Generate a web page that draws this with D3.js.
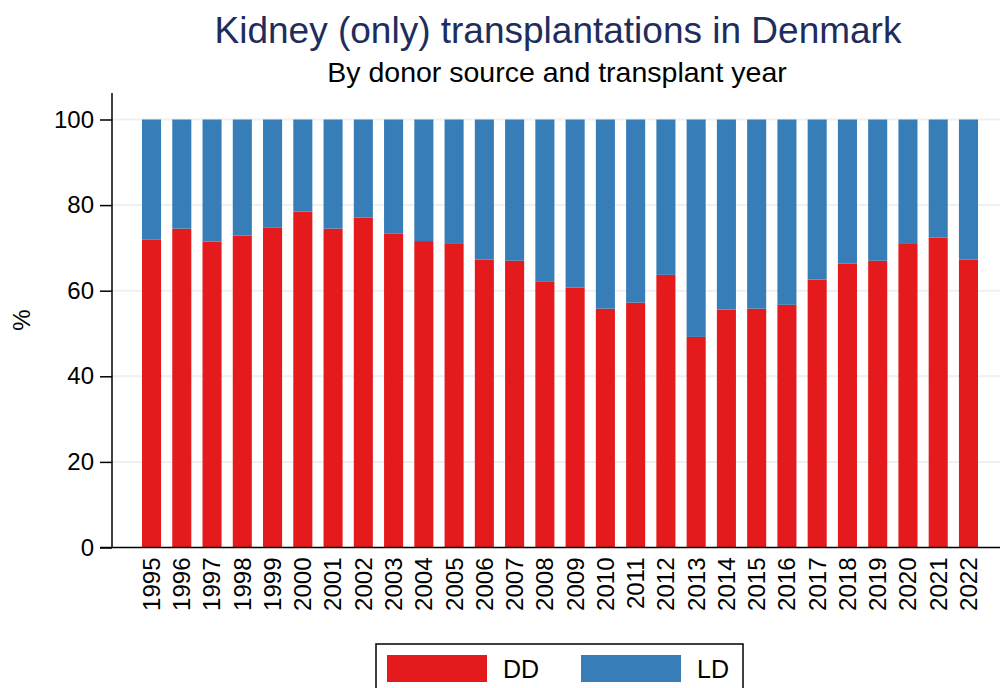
<!DOCTYPE html>
<html>
<head>
  <script src="https://d3js.org/d3.v7.min.js"></script>
  <style>
    body { margin: 0; background: #fff; }
    svg { font-family: Arial, "Liberation Sans", sans-serif; }
    .title { font-size: 37px; fill: #1e2d5c; }
    .subtitle { font-size: 28.5px; fill: #000; }
    .axis text { font-size: 24px; fill: #000; }
    .axis path, .axis line { stroke: #000; stroke-width: 1.5; }
    .grid line { stroke: #eaf2f3; stroke-width: 2; }
  </style>
</head>
<body>
  <div id="chart"></div>
  <script>
    // data
    const years = ["1995", "1996", "1997", "1998", "1999", "2000", "2001", "2002", "2003", "2004",
                   "2005", "2006", "2007", "2008", "2009", "2010", "2011", "2012", "2013", "2014",
                   "2015", "2016", "2017", "2018", "2019", "2020", "2021", "2022"];
    const ddShare = [71.9, 74.5, 71.5, 72.9, 74.7, 78.5, 74.5, 77.1, 73.4, 71.6,
                     71.1, 67.3, 67.0, 62.2, 60.7, 55.8, 57.2, 63.7, 49.2, 55.6,
                     55.8, 56.7, 62.6, 66.3, 67.0, 71.1, 72.4, 67.3];
    const ldShare = ddShare.map(d => 100 - d);
    const yTicks = [0, 20, 40, 60, 80, 100];
    const keys = ["DD", "LD"];
    const colors = ["#e41a1c", "#377eb8"];

    const width = 1002, height = 688;
    const plot = { left: 112, right: 1000, top: 93, bottom: 548 };

    const svg = d3.select("#chart").append("svg")
      .attr("width", width)
      .attr("height", height);

    const rows = years.map((y, i) => ({ year: y, DD: ddShare[i], LD: ldShare[i] }));
    const stacked = d3.stack().keys(keys)(rows);

    const x = d3.scaleBand()
      .domain(years)
      .range([136.4, 983.6])
      .paddingInner(0.37)
      .paddingOuter(0.185);

    const y = d3.scaleLinear()
      .domain([0, 100])
      .range([547.5, 119.5]);

    const color = d3.scaleOrdinal().domain(keys).range(colors);

    // gridlines
    svg.append("g")
      .attr("class", "grid")
      .selectAll("line")
      .data(yTicks.filter(d => d > 0))
      .enter().append("line")
        .attr("x1", plot.left)
        .attr("x2", plot.right)
        .attr("y1", d => y(d))
        .attr("y2", d => y(d));

    // bars
    svg.append("g")
      .selectAll("g")
      .data(stacked)
      .enter().append("g")
        .attr("fill", d => color(d.key))
        .selectAll("rect")
        .data(d => d)
        .enter().append("rect")
          .attr("x", d => x(d.data.year))
          .attr("y", d => y(d[1]))
          .attr("height", d => y(d[0]) - y(d[1]))
          .attr("width", x.bandwidth());

    // y axis
    const yAxis = svg.append("g")
      .attr("class", "axis")
      .attr("transform", `translate(${plot.left},0)`)
      .call(d3.axisLeft(y).tickValues(yTicks).tickSize(12).tickPadding(6));
    yAxis.select(".domain").remove();
    yAxis.append("line")
      .attr("x1", 0).attr("x2", 0)
      .attr("y1", plot.top).attr("y2", y(0))
      .attr("stroke", "#000").attr("stroke-width", 1.5);

    // x axis
    const xAxis = svg.append("g")
      .attr("class", "axis")
      .attr("transform", `translate(0,${y(0)})`)
      .call(d3.axisBottom(x).tickSize(0));
    xAxis.select(".domain").remove();
    xAxis.append("line")
      .attr("x1", plot.left - 12).attr("x2", plot.right)
      .attr("y1", 0).attr("y2", 0)
      .attr("stroke", "#000").attr("stroke-width", 1.5);
    xAxis.selectAll(".tick text")
      .attr("transform", "rotate(-90)")
      .attr("text-anchor", "end")
      .attr("x", -10)
      .attr("y", 0)
      .attr("dy", "0.35em");

    // y axis title
    svg.append("text")
      .attr("transform", "translate(30,320) rotate(-90)")
      .attr("text-anchor", "middle")
      .style("font-size", "24px")
      .text("%");

    // titles
    svg.append("text")
      .attr("class", "title")
      .attr("x", 558)
      .attr("y", 43)
      .attr("text-anchor", "middle")
      .text("Kidney (only) transplantations in Denmark");

    svg.append("text")
      .attr("class", "subtitle")
      .attr("x", 557)
      .attr("y", 82)
      .attr("text-anchor", "middle")
      .text("By donor source and transplant year");

    // legend
    const legend = svg.append("g").attr("transform", "translate(376,644)");
    legend.append("rect")
      .attr("width", 367)
      .attr("height", 60)
      .attr("fill", "#fff")
      .attr("stroke", "#000")
      .attr("stroke-width", 1.5);

    const items = legend.selectAll(".item")
      .data(keys)
      .enter().append("g")
        .attr("class", "item")
        .attr("transform", (d, i) => `translate(${11 + i * 194},11)`);
    items.append("rect")
      .attr("width", 100)
      .attr("height", 27)
      .attr("fill", color);
    items.append("text")
      .attr("x", 116)
      .attr("y", 14)
      .attr("dy", "0.35em")
      .style("font-size", "25px")
      .text(d => d);
  </script>
</body>
</html>
